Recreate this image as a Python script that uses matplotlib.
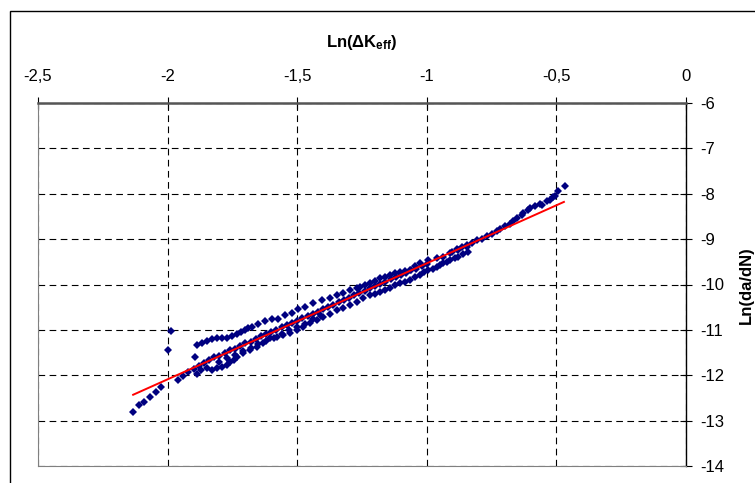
import matplotlib.pyplot as plt
from matplotlib.patches import Rectangle

# ---------- Data ----------
# steep start branch
a_x = [-2.132, -2.110, -2.090, -2.067, -2.046, -2.027]
a_y = [-12.82, -12.66, -12.59, -12.48, -12.36, -12.25]

# isolated points near x = -2
o_x = [-1.997, -1.987, -1.895]
o_y = [-11.44, -11.02, -11.60]

# middle band (close to the fit)
m_x = [-1.96, -1.94, -1.92, -1.90, -1.88, -1.86, -1.84, -1.82, -1.80, -1.78,
       -1.76, -1.74, -1.72, -1.70, -1.68, -1.66, -1.64, -1.62, -1.60, -1.58,
       -1.56, -1.54, -1.52, -1.50, -1.48, -1.46, -1.44, -1.42, -1.40, -1.38,
       -1.36, -1.34, -1.32, -1.30, -1.28, -1.26, -1.24, -1.22, -1.20, -1.18,
       -1.16, -1.14, -1.12, -1.10, -1.08, -1.06, -1.04, -1.02, -1.00]
m_y = [-12.10, -12.02, -11.93, -11.87, -11.80, -11.72, -11.67, -11.60, -11.57, -11.52,
       -11.45, -11.42, -11.35, -11.29, -11.27, -11.20, -11.13, -11.10, -11.04, -11.00,
       -10.94, -10.90, -10.84, -10.80, -10.74, -10.70, -10.65, -10.61, -10.54, -10.50,
       -10.46, -10.39, -10.35, -10.29, -10.24, -10.18, -10.14, -10.08, -10.03, -9.98,
       -9.94, -9.88, -9.84, -9.79, -9.74, -9.69, -9.65, -9.59, -9.55]

# second row just under the fit
m2_x = [-1.80, -1.77, -1.74, -1.71, -1.68, -1.65, -1.62, -1.59, -1.56, -1.53,
        -1.50, -1.47, -1.44, -1.41]
m2_y = [-11.70, -11.63, -11.55, -11.47, -11.40, -11.31, -11.24, -11.17, -11.08, -11.01,
        -10.93, -10.86, -10.77, -10.70]

# upper band
u_x = [-1.885, -1.868, -1.849, -1.830, -1.811, -1.791, -1.772, -1.750, -1.731, -1.718,
       -1.701, -1.689, -1.675, -1.650, -1.625, -1.598, -1.573, -1.547, -1.521, -1.496,
       -1.470, -1.438, -1.405, -1.373, -1.348, -1.322, -1.296, -1.270, -1.258, -1.240,
       -1.219, -1.200, -1.181, -1.162, -1.142, -1.122, -1.103, -1.085, -1.065, -1.045,
       -1.026, -0.994, -0.962, -0.936, -0.910, -0.878, -0.846]
u_y = [-11.34, -11.29, -11.24, -11.20, -11.18, -11.17, -11.18, -11.13, -11.09, -11.04,
       -11.00, -10.96, -10.93, -10.87, -10.80, -10.75, -10.76, -10.67, -10.62, -10.54,
       -10.49, -10.41, -10.35, -10.30, -10.23, -10.18, -10.13, -10.08, -10.05, -10.01,
       -9.97, -9.92, -9.86, -9.83, -9.79, -9.75, -9.72, -9.70, -9.68, -9.60,
       -9.53, -9.46, -9.42, -9.39, -9.31, -9.24, -9.17]

# lower band
l_x = [-1.885, -1.870, -1.847, -1.830, -1.810, -1.791, -1.772, -1.759, -1.745, -1.733,
       -1.708, -1.682, -1.656, -1.631, -1.605, -1.579, -1.554, -1.528, -1.502, -1.476,
       -1.451, -1.425, -1.399, -1.373, -1.348, -1.322, -1.296, -1.270, -1.245, -1.219,
       -1.200, -1.181, -1.162, -1.142, -1.122, -1.103, -1.085, -1.065, -1.045, -1.026,
       -1.010, -0.994, -0.978, -0.962, -0.948, -0.936, -0.923, -0.910, -0.891, -0.878,
       -0.859, -0.840]
l_y = [-11.98, -11.88, -11.84, -11.88, -11.84, -11.81, -11.77, -11.70, -11.66, -11.59,
       -11.52, -11.44, -11.37, -11.29, -11.18, -11.16, -11.11, -11.06, -11.00, -10.93,
       -10.85, -10.78, -10.71, -10.65, -10.57, -10.52, -10.45, -10.38, -10.30, -10.23,
       -10.20, -10.16, -10.12, -10.08, -10.02, -9.97, -9.94, -9.90, -9.84, -9.79,
       -9.73, -9.68, -9.65, -9.61, -9.57, -9.53, -9.50, -9.46, -9.42, -9.39,
       -9.33, -9.28]

# end of the curve
e_x = [-0.904, -0.885, -0.865, -0.846, -0.827, -0.807, -0.788, -0.769, -0.750, -0.730,
       -0.718, -0.698, -0.679, -0.666, -0.653, -0.634, -0.628, -0.608, -0.602, -0.583,
       -0.563, -0.557, -0.537, -0.525, -0.512, -0.505, -0.493, -0.467]
e_y = [-9.28, -9.22, -9.18, -9.13, -9.09, -9.03, -9.00, -8.94, -8.89, -8.83,
       -8.78, -8.72, -8.67, -8.61, -8.54, -8.47, -8.43, -8.36, -8.32, -8.27,
       -8.22, -8.25, -8.17, -8.14, -8.08, -8.05, -7.93, -7.82]

# linear fit (red)
fit_x = [-2.133, -0.471]
fit_y = [-12.43, -8.18]

x_ticks = [-2.5, -2.0, -1.5, -1.0, -0.5, 0.0]
x_labels = ["-2,5", "-2", "-1,5", "-1", "-0,5", "0"]
y_ticks = [-6, -7, -8, -9, -10, -11, -12, -13, -14]
y_labels = ["-6", "-7", "-8", "-9", "-10", "-11", "-12", "-13", "-14"]

# ---------- Style ----------
plt.rcParams['font.family'] = ['Liberation Sans', 'DejaVu Sans']
plt.rcParams['mathtext.fontset'] = 'custom'
plt.rcParams['mathtext.rm'] = 'Liberation Sans:bold'
plt.rcParams['mathtext.bf'] = 'Liberation Sans:bold'
plt.rcParams['mathtext.it'] = 'Liberation Sans:bold'

W, H = 755, 483
fig = plt.figure(figsize=(W / 100, H / 100), dpi=100)
ax = fig.add_axes([38 / W, 1 - 466 / H, (686 - 38) / W, (466 - 103) / H])

# ---------- Plot ----------
for xs, ys in [(a_x, a_y), (o_x, o_y), (m_x, m_y), (m2_x, m2_y),
               (u_x, u_y), (l_x, l_y), (e_x, e_y)]:
    ax.plot(xs, ys, linestyle="none", marker="D", markersize=4.2,
            color="#000080", markeredgewidth=0, zorder=3)
ax.plot(fit_x, fit_y, color="red", linewidth=1.4, zorder=4)

ax.set_xlim(-2.5, 0)
ax.set_ylim(-14, -6)
ax.xaxis.set_ticks_position("top")
ax.yaxis.set_ticks_position("right")
ax.set_xticks(x_ticks)
ax.set_xticklabels(x_labels)
ax.set_yticks(y_ticks)
ax.set_yticklabels(y_labels)
ax.tick_params(axis="x", direction="inout", length=8, width=0.8, pad=10, labelsize=12)
ax.tick_params(axis="y", direction="inout", length=8, width=0.8, pad=6, labelsize=12)

ax.grid(True, color="black", linestyle=(0, (6, 4)), linewidth=0.8)

ax.spines["top"].set_color("#555555")
ax.spines["top"].set_linewidth(1.8)
ax.spines["right"].set_color("black")
ax.spines["right"].set_linewidth(1.0)
ax.spines["left"].set_color("#808080")
ax.spines["bottom"].set_color("#808080")

fig.text(362 / W, 1 - 43 / H, r"Ln($\Delta$K$_{eff}$)", ha="center", va="center",
         fontsize=12, fontweight="bold")
fig.text(746 / W, 1 - 285 / H, "Ln(da/dN)", ha="center", va="center",
         rotation=90, fontsize=12, fontweight="bold")

# outer chart border
fig.patches.append(Rectangle((10 / W, -0.05), 1.0, 1.05 - 11 / H, fill=False,
                             edgecolor="black", linewidth=1.0,
                             transform=fig.transFigure))

fig.savefig("out.png", dpi=100)
